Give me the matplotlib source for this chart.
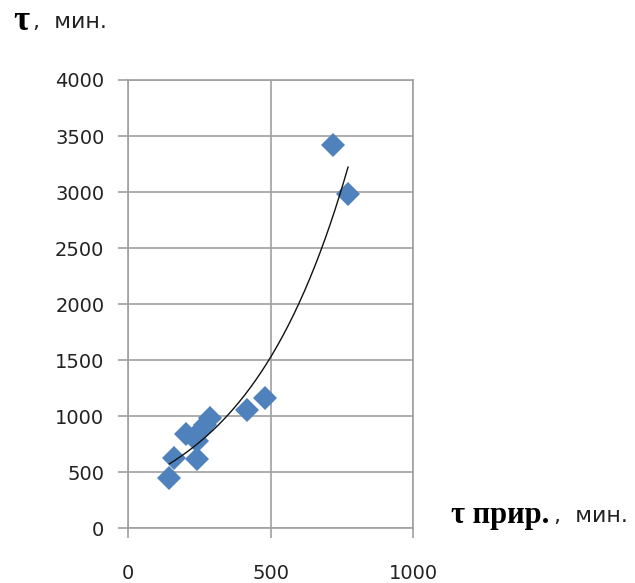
import matplotlib
matplotlib.use("Agg")
import matplotlib.pyplot as plt
import numpy as np

# natural vs. actual time, minutes
t_prir = [145, 160, 243, 204, 241, 255, 270, 288, 417, 481, 721, 772]
t_real = [450, 625, 615, 840, 775, 880, 920, 980, 1055, 1160, 3420, 2980]

x_ticks = [0, 500, 1000]
y_ticks = [0, 500, 1000, 1500, 2000, 2500, 3000, 3500, 4000]

# exponential trend (like the excel one)
b, ln_a = np.polyfit(t_prir, np.log(t_real), 1)
xs = np.linspace(min(t_prir), max(t_prir), 200)
ys = np.exp(ln_a) * np.exp(b * xs)

fig = plt.figure(figsize=(6.35, 5.83), dpi=100)
ax = fig.add_axes([0.2016, 0.0938, 0.4488, 0.769])

grid_c = "#a0a0a0"
ax.set_xlim(0, 1000)
ax.set_ylim(0, 4000)
ax.set_xticks(x_ticks)
ax.set_yticks(y_ticks)
ax.grid(True, color=grid_c, linewidth=1.2)
ax.set_axisbelow(True)
for s in ax.spines.values():
    s.set_color(grid_c)
    s.set_linewidth(1.2)
ax.tick_params(axis="both", colors=grid_c, labelcolor="#222222",
               labelsize=14, length=7, width=1.2)
ax.tick_params(axis="x", pad=19)
ax.tick_params(axis="y", pad=10)

ax.plot(t_prir, t_real, "D", color="#4f81bd", markersize=12,
        markeredgewidth=0, zorder=3)
ax.plot(xs, ys, color="#111111", linewidth=1.0, zorder=4)

# axis captions
fig.text(13 / 635, 1 - 21 / 583, "τ", family="Liberation Serif",
         fontweight="bold", fontsize=25, va="center")
fig.text(33 / 635, 1 - 22 / 583, ",  мин.", family="DejaVu Sans",
         fontsize=16, va="center", color="#222222")
fig.text(451 / 635, 1 - 515 / 583, "τ прир.", family="Liberation Serif",
         fontweight="bold", fontsize=22, va="center")
fig.text(554 / 635, 1 - 516 / 583, ",  мин.", family="DejaVu Sans",
         fontsize=16, va="center", color="#222222")

fig.savefig("out.png", dpi=100)
